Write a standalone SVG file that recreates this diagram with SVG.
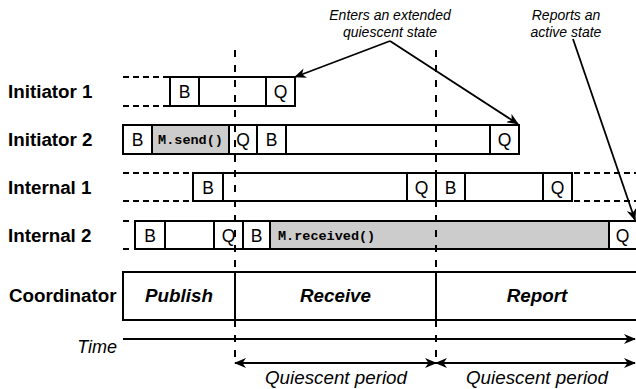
<svg xmlns="http://www.w3.org/2000/svg" width="636" height="389" viewBox="0 0 636 389">
<style>
.box{fill:#fff;stroke:#000;stroke-width:2}
.gray{fill:#cccccc;stroke:#000;stroke-width:2}
.div{stroke:#000;stroke-width:2;fill:none}
.hd{stroke:#000;stroke-width:2;stroke-dasharray:6,4;fill:none}
.vd{stroke:#000;stroke-width:2;stroke-dasharray:7,8;fill:none}
.lbl{font-family:"Liberation Sans",Arial,sans-serif;font-weight:bold;font-size:18.8px}
.cell{font-family:"Liberation Sans",Arial,sans-serif;font-size:17.5px;text-anchor:middle}
.mono{font-family:"Liberation Mono","Courier New",monospace;font-weight:bold;font-size:13.5px}
.ph{font-family:"Liberation Sans",Arial,sans-serif;font-weight:bold;font-style:italic;font-size:18.8px;text-anchor:middle}
.it{font-family:"Liberation Sans",Arial,sans-serif;font-style:italic}
.con{stroke:#000;stroke-width:1.8;fill:none}
</style>
<defs>
<marker id="ah" viewBox="0 0 12 10" refX="11" refY="5" markerWidth="12" markerHeight="10" markerUnits="userSpaceOnUse" orient="auto-start-reverse">
<path d="M0,0 L12,5 L0,10 L3.5,5 z" fill="#000"/>
</marker>
</defs>

<g id="initiator1">
<text class="lbl" x="8" y="98">Initiator 1</text>
<line class="hd" x1="123" y1="77" x2="170" y2="77"/>
<line class="hd" x1="123" y1="106" x2="170" y2="106"/>
<rect class="box" x="170" y="77" width="125" height="29"/>
<line class="div" x1="199" y1="77" x2="199" y2="106"/>
<line class="div" x1="266" y1="77" x2="266" y2="106"/>
<text class="cell" x="184.5" y="98">B</text>
<text class="cell" x="280.5" y="98">Q</text>
</g>

<g id="initiator2">
<text class="lbl" x="8" y="146">Initiator 2</text>
<rect class="box" x="123" y="125" width="396" height="29"/>
<rect class="gray" x="152" y="125" width="77" height="29"/>
<line class="div" x1="257" y1="125" x2="257" y2="154"/>
<line class="div" x1="286" y1="125" x2="286" y2="154"/>
<line class="div" x1="490" y1="125" x2="490" y2="154"/>
<text class="cell" x="137.5" y="146">B</text>
<text class="mono" x="190.5" y="144" text-anchor="middle">M.send()</text>
<text class="cell" x="243" y="146">Q</text>
<text class="cell" x="271.5" y="146">B</text>
<text class="cell" x="504.5" y="146">Q</text>
</g>

<g id="internal1">
<text class="lbl" x="8" y="194">Internal 1</text>
<line class="hd" x1="123" y1="173" x2="193" y2="173"/>
<line class="hd" x1="123" y1="201" x2="193" y2="201"/>
<line class="hd" x1="574" y1="173" x2="636" y2="173"/>
<line class="hd" x1="574" y1="201" x2="636" y2="201"/>
<rect class="box" x="193" y="173" width="379" height="28"/>
<line class="div" x1="223" y1="173" x2="223" y2="201"/>
<line class="div" x1="407" y1="173" x2="407" y2="201"/>
<line class="div" x1="436" y1="173" x2="436" y2="201"/>
<line class="div" x1="465" y1="173" x2="465" y2="201"/>
<line class="div" x1="543" y1="173" x2="543" y2="201"/>
<text class="cell" x="208" y="193.5">B</text>
<text class="cell" x="421.5" y="193.5">Q</text>
<text class="cell" x="450.5" y="193.5">B</text>
<text class="cell" x="557.5" y="193.5">Q</text>
</g>

<g id="internal2">
<text class="lbl" x="8" y="242">Internal 2</text>
<line class="hd" x1="123" y1="221" x2="130" y2="221"/>
<line class="hd" x1="123" y1="249" x2="130" y2="249"/>
<rect class="box" x="135" y="221" width="505" height="28"/>
<rect class="gray" x="270" y="221" width="339" height="28"/>
<line class="div" x1="165" y1="221" x2="165" y2="249"/>
<line class="div" x1="214" y1="221" x2="214" y2="249"/>
<line class="div" x1="243" y1="221" x2="243" y2="249"/>
<text class="cell" x="150" y="241.5">B</text>
<text class="cell" x="228.5" y="241.5">Q</text>
<text class="cell" x="256.5" y="241.5">B</text>
<text class="mono" x="278" y="240">M.received()</text>
<text class="cell" x="622.5" y="241.5">Q</text>
</g>

<g id="coordinator">
<text class="lbl" x="9" y="302">Coordinator</text>
<rect class="box" x="123" y="272" width="517" height="48"/>
<line class="div" x1="235" y1="272" x2="235" y2="320"/>
<line class="div" x1="436" y1="272" x2="436" y2="320"/>
<text class="ph" x="179" y="302">Publish</text>
<text class="ph" x="335.5" y="302">Receive</text>
<text class="ph" x="537" y="302">Report</text>
</g>

<g id="time">
<text class="it" x="117" y="353" font-size="18" text-anchor="end">Time</text>
</g>

<g id="annotations">
<text class="it" font-size="14" text-anchor="middle" x="390" y="20">Enters an extended</text>
<text class="it" font-size="14" text-anchor="middle" x="390" y="37">quiescent state</text>
<text class="it" font-size="14" text-anchor="middle" x="566" y="20">Reports an</text>
<text class="it" font-size="14" text-anchor="middle" x="566" y="37">active state</text>
<text class="it" font-size="18.8" text-anchor="middle" x="336" y="384">Quiescent period</text>
<text class="it" font-size="18.8" text-anchor="middle" x="537" y="384">Quiescent period</text>
</g>

<g id="connectors">
<line class="vd" x1="235" y1="50" x2="235" y2="363"/>
<line class="vd" x1="436" y1="50" x2="436" y2="363"/>
<line class="con" x1="390" y1="41" x2="295" y2="77" marker-end="url(#ah)"/>
<line class="con" x1="390" y1="41" x2="518" y2="124" marker-end="url(#ah)"/>
<line class="con" x1="573" y1="39" x2="635" y2="220" marker-end="url(#ah)"/>
<line class="con" stroke-width="2" x1="123" y1="339" x2="635" y2="339" marker-end="url(#ah)"/>
<line class="con" x1="235" y1="363" x2="436" y2="363" marker-start="url(#ah)" marker-end="url(#ah)"/>
<line class="con" x1="436" y1="363" x2="635" y2="363" marker-start="url(#ah)" marker-end="url(#ah)"/>
</g>
</svg>
